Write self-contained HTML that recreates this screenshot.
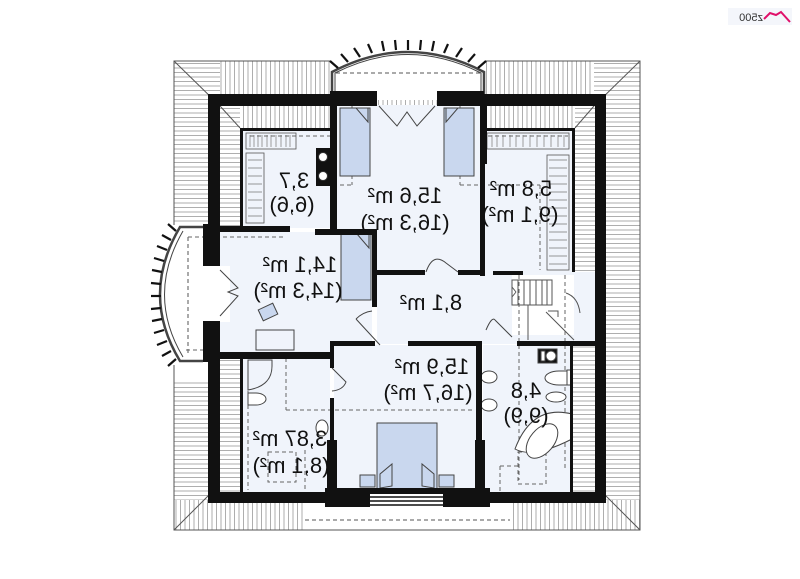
<!DOCTYPE html>
<html><head><meta charset="utf-8"><style>
html,body{margin:0;padding:0;background:#fff;width:800px;height:579px;overflow:hidden}
svg{display:block}
.t{font-family:"Liberation Sans",sans-serif;font-size:22px;fill:#111;text-anchor:middle}
</style></head><body>
<svg width="800" height="579" viewBox="0 0 800 579" xmlns="http://www.w3.org/2000/svg">
<defs>
<pattern id="hv" width="4.5" height="10" patternUnits="userSpaceOnUse"><rect width="4.5" height="10" fill="#fff"/><line x1="0.5" y1="0" x2="0.5" y2="10" stroke="#999" stroke-width="0.8"/></pattern>
<pattern id="hh" width="10" height="4.5" patternUnits="userSpaceOnUse"><rect width="10" height="4.5" fill="#fff"/><line x1="0" y1="0.5" x2="10" y2="0.5" stroke="#999" stroke-width="0.8"/></pattern>
</defs>
<rect width="800" height="579" fill="#fff"/>
<!-- logo -->
<rect x="728" y="8" width="64" height="17" fill="#f4f6fb"/>
<text x="751" y="21" font-family="Liberation Sans,sans-serif" font-size="11" fill="#333" text-anchor="middle" transform="translate(1502,0) scale(-1,1)">z500</text>
<path d="M764 19 L770 13 L776 15 L781 12 L790 22" stroke="#e0106a" stroke-width="2" fill="none"/>

<!-- roof hatching -->
<rect x="174" y="61" width="466" height="45" fill="url(#hv)"/>
<rect x="174" y="61" width="46" height="168" fill="url(#hh)"/>
<rect x="594" y="61" width="46" height="469" fill="url(#hh)"/>
<rect x="174" y="380" width="46" height="150" fill="url(#hh)"/>
<rect x="174" y="500" width="131" height="30" fill="url(#hv)"/>
<rect x="510" y="500" width="130" height="30" fill="url(#hv)"/>
<rect x="220" y="106" width="110" height="22" fill="url(#hv)"/>
<rect x="484" y="106" width="110" height="22" fill="url(#hv)"/>
<rect x="220" y="106" width="20" height="122" fill="url(#hh)"/>
<rect x="575" y="106" width="20" height="166" fill="url(#hh)"/>
<rect x="220" y="358" width="20" height="135" fill="url(#hh)"/>
<rect x="573" y="344" width="22" height="150" fill="url(#hh)"/>
<g stroke="#555" stroke-width="1" fill="none">
<rect x="174" y="61" width="466" height="469"/>
<line x1="174" y1="61" x2="220" y2="106"/><line x1="640" y1="61" x2="594" y2="106"/>
<line x1="174" y1="530" x2="210" y2="494"/><line x1="640" y1="530" x2="604" y2="494"/>
<line x1="220" y1="106" x2="240" y2="128"/><line x1="594" y1="106" x2="575" y2="128"/>
<line x1="305" y1="520" x2="510" y2="520" stroke-dasharray="4,3"/>
</g>
<rect x="305" y="505" width="205" height="24" fill="#fff"/>
<line x1="305" y1="520" x2="510" y2="520" stroke="#555" stroke-dasharray="4,3"/>

<!-- bay windows -->
<rect x="331" y="60" width="154" height="40" fill="#fff"/>
<path d="M332 94 V72 Q408 32 484 72 V94" fill="#fff" stroke="#444" stroke-width="2.5"/>
<path d="M335 94 V73 Q408 36 481 73 V94" fill="none" stroke="#444" stroke-width="1"/>
<line x1="336" y1="73" x2="480" y2="73" stroke="#555" stroke-dasharray="4,3"/>
<g stroke="#111" stroke-width="2.2">
<line x1="338" y1="68" x2="330" y2="61"/><line x1="348" y1="62" x2="341" y2="54"/><line x1="360" y1="57" x2="354" y2="48"/><line x1="372" y1="53" x2="368" y2="44"/><line x1="384" y1="51" x2="382" y2="41"/><line x1="396" y1="50" x2="395" y2="40"/><line x1="408" y1="50" x2="408" y2="40"/><line x1="420" y1="50" x2="421" y2="40"/><line x1="432" y1="51" x2="434" y2="41"/><line x1="444" y1="53" x2="448" y2="44"/><line x1="456" y1="57" x2="462" y2="48"/><line x1="468" y1="62" x2="475" y2="54"/><line x1="478" y1="68" x2="486" y2="61"/>
</g>
<rect x="150" y="225" width="55" height="140" fill="#fff"/>
<path d="M203 227 H180 Q140 295 180 361 H203" fill="#fff" stroke="#444" stroke-width="2.5"/>
<path d="M183 231 Q146 295 183 357" fill="none" stroke="#444" stroke-width="1"/>
<line x1="188" y1="237" x2="188" y2="355" stroke="#555" stroke-dasharray="4,3"/>
<g stroke="#111" stroke-width="2.2">
<line x1="176" y1="231" x2="168" y2="224"/><line x1="171" y1="240" x2="162" y2="235"/><line x1="167" y1="250" x2="157" y2="246"/><line x1="164" y1="261" x2="154" y2="258"/><line x1="162" y1="272" x2="152" y2="270"/><line x1="161" y1="284" x2="151" y2="283"/><line x1="161" y1="296" x2="151" y2="296"/><line x1="161" y1="308" x2="151" y2="309"/><line x1="162" y1="319" x2="152" y2="321"/><line x1="164" y1="330" x2="154" y2="333"/><line x1="167" y1="341" x2="157" y2="345"/><line x1="171" y1="351" x2="162" y2="356"/><line x1="176" y1="359" x2="168" y2="366"/>
</g>

<!-- room floors -->
<g fill="#f0f4fb">
<rect x="243" y="131" width="87" height="97"/>
<rect x="337" y="105" width="143" height="168"/>
<rect x="484" y="131" width="88" height="141"/>
<rect x="220" y="232" width="152" height="121"/>
<rect x="377" y="272" width="218" height="72"/>
<rect x="220" y="240" width="110" height="110"/>
<rect x="243" y="359" width="87" height="133"/>
<rect x="334" y="345" width="142" height="147"/>
<rect x="483" y="345" width="89" height="147"/>
<rect x="220" y="266" width="10" height="56" fill="#fff"/>
</g>
<rect x="512" y="275" width="62" height="60" fill="#fff"/>

<!-- dashed lines -->
<g stroke="#666" stroke-width="1" stroke-dasharray="4,3" fill="none">
<line x1="250" y1="136" x2="330" y2="136"/><line x1="340" y1="185" x2="352" y2="185"/><line x1="352" y1="105" x2="352" y2="185"/>
<line x1="460" y1="105" x2="460" y2="185"/><line x1="460" y1="185" x2="540" y2="185"/><line x1="488" y1="136" x2="568" y2="136"/>
<line x1="540" y1="185" x2="540" y2="270"/><line x1="188" y1="237" x2="285" y2="237"/>
<line x1="186" y1="350" x2="208" y2="350"/><line x1="286" y1="358" x2="286" y2="410"/><line x1="286" y1="410" x2="475" y2="410"/>
<line x1="519" y1="275" x2="519" y2="480"/><line x1="565" y1="275" x2="565" y2="470"/>
<line x1="248" y1="370" x2="248" y2="490"/><line x1="305" y1="450" x2="305" y2="492"/>
<rect x="268" y="452" width="28" height="30"/><rect x="518" y="452" width="28" height="32"/>
<line x1="500" y1="466" x2="500" y2="492"/><line x1="500" y1="466" x2="518" y2="466"/>
</g>

<!-- closets -->
<g stroke="#555" stroke-width="0.8" fill="none">
<rect x="246" y="133" width="50" height="16"/>
<rect x="246" y="153" width="18" height="70"/>
<rect x="487" y="133" width="82" height="16"/>
<rect x="547" y="155" width="22" height="115"/>
</g>
<g stroke="#777" stroke-width="0.7">
<path d="M250 135 v12 M254 135 v12 M258 135 v12 M262 135 v12 M267 135 v12 M271 135 v12 M276 135 v12 M281 135 v12 M286 135 v12 M290 135 v12"/>
<path d="M248 160 h14 M248 168 h14 M248 176 h14 M248 184 h14 M248 192 h14 M248 200 h14 M248 208 h14 M248 216 h14"/>
<path d="M492 135 v12 M497 135 v12 M503 135 v12 M510 135 v12 M516 135 v12 M523 135 v12 M530 135 v12 M537 135 v12 M544 135 v12 M551 135 v12 M558 135 v12 M564 135 v12"/>
<path d="M549 160 h18 M549 168 h18 M549 176 h18 M549 184 h18 M549 192 h18 M549 200 h18 M549 208 h18 M549 216 h18 M549 224 h18 M549 232 h18 M549 240 h18 M549 248 h18 M549 256 h18 M549 264 h18"/>
</g>
<!-- chimney -->
<rect x="316" y="148" width="14" height="38" fill="#111"/>
<circle cx="323" cy="157" r="4.5" fill="#fff" stroke="#333"/><circle cx="323" cy="176" r="4.5" fill="#fff" stroke="#333"/>

<!-- beds -->
<g fill="#c9d7ee" stroke="#444" stroke-width="1">
<rect x="340" y="108" width="30" height="68"/>
<rect x="444" y="108" width="30" height="68"/>
<rect x="341" y="234" width="30" height="66"/>
<rect x="377" y="423" width="60" height="66"/>
<rect x="360" y="475" width="15" height="12"/><rect x="439" y="475" width="15" height="12"/>
<rect x="260" y="306" width="16" height="12" transform="rotate(-25 268 312)"/>
</g>
<g stroke="#444" stroke-width="1" fill="none">
<path d="M356 108 h12 v14 z"/><path d="M458 108 h-12 v14 z"/><path d="M357 234 h12 v14 z"/>
<path d="M380 488 v-14 l12 -10 v22 z M434 488 v-14 l-12 -10 v22 z"/>
<rect x="256" y="330" width="38" height="20"/>
</g>

<!-- stairs -->
<g stroke="#555" stroke-width="1" fill="none">
<rect x="512" y="280" width="40" height="25"/>
<path d="M518 280v25 M524 280v25 M530 280v25 M536 280v25 M542 280v25 M547 280v25"/>
<path d="M516 292 l-4 -5 M516 292 l-4 5"/>
<path d="M566 293 q12 4 14 20"/><line x1="528" y1="305" x2="528" y2="340"/>
<path d="M548 311 h10 v6 M546 312 l28 28"/>
</g>
<!-- doors -->
<g stroke="#444" stroke-width="1" fill="none">
<path d="M379 106 l18 20 l10 -14 l10 14 l18 -20"/>
<path d="M220 270 l18 18 l-10 4 l10 4 l-18 20"/>
<path d="M426 272 q7 -20 20 -9 M458 272 l-12 -9"/>
<path d="M356 319 q7 -7 16 -8 M356 319 l24 26"/>
<path d="M486 330 q6 -14 9 -10 M495 320 l17 17"/>
<path d="M332 368 l14 14 q-3 8 -14 9"/>
<path d="M248 360 h24 v6 q0 20 -24 24 z"/>
</g>
<!-- sanitary -->
<g stroke="#444" stroke-width="1" fill="#fff">
<rect x="538" y="349" width="19" height="14" fill="#111"/><rect x="541" y="351" width="4" height="10"/><circle cx="551" cy="356" r="5"/>
<path d="M567 371 h-8 a10 5 0 0 0 0 14 h8"/><rect x="567" y="370" width="4" height="15"/>
<ellipse cx="556" cy="397" rx="10" ry="5"/>
<path d="M572 414 q-40 -10 -57 35 q18 10 57 -10 z"/>
<ellipse cx="542" cy="441" rx="12" ry="20" transform="rotate(40 542 441)"/>
<ellipse cx="489" cy="377" rx="8" ry="6"/><ellipse cx="489" cy="405" rx="8" ry="6"/>
<path d="M248 405 h8 a10 6 0 0 0 0 -12 h-8 z"/>
<ellipse cx="322" cy="428" rx="6" ry="8"/>
</g>

<!-- walls -->
<g fill="#111">
<rect x="208" y="94" width="122" height="12"/>
<rect x="330" y="91" width="47" height="15"/>
<rect x="437" y="91" width="47" height="15"/>
<rect x="484" y="94" width="122" height="12"/>
<rect x="208" y="94" width="12" height="134"/>
<rect x="203" y="224" width="17" height="42"/>
<rect x="203" y="321" width="17" height="41"/>
<rect x="208" y="358" width="12" height="145"/>
<rect x="595" y="94" width="11" height="409"/>
<rect x="208" y="492" width="398" height="11"/>
<rect x="325" y="488" width="165" height="19"/>
<rect x="330" y="94" width="7" height="136"/>
<rect x="480" y="94" width="5" height="182"/>
<rect x="480" y="94" width="7" height="70"/>
<rect x="240" y="128" width="90" height="3"/><rect x="240" y="128" width="3" height="100"/>
<rect x="484" y="128" width="91" height="3"/><rect x="572" y="128" width="3" height="144"/>
<rect x="208" y="226" width="82" height="6"/>
<rect x="315" y="229" width="60" height="6"/>
<rect x="372" y="229" width="5" height="78"/>
<rect x="377" y="270" width="48" height="5"/><rect x="458" y="270" width="26" height="5"/>
<rect x="493" y="271" width="30" height="4"/>
<rect x="208" y="352" width="123" height="7"/>
<rect x="240" y="358" width="3" height="134"/>
<rect x="330" y="341" width="45" height="5"/><rect x="408" y="341" width="74" height="5"/><rect x="517" y="341" width="78" height="5"/>
<rect x="330" y="341" width="4" height="27"/><rect x="330" y="398" width="4" height="94"/><rect x="327" y="440" width="10" height="55"/>
<rect x="476" y="341" width="6" height="150"/><rect x="475" y="440" width="10" height="55"/>
<rect x="570" y="344" width="3" height="148"/>
</g>
<rect x="370" y="494" width="73" height="13" fill="#fff"/>
<g stroke="#111" stroke-width="1.5"><line x1="370" y1="497" x2="443" y2="497"/><line x1="370" y1="501" x2="443" y2="501"/><line x1="370" y1="505" x2="443" y2="505"/></g>

<!-- labels (mirrored) -->
<g class="t">
<text transform="translate(294,188) scale(-1,1)">3,7</text>
<text transform="translate(292,212) scale(-1,1)">(6,6)</text>
<text transform="translate(405,203) scale(-1,1)">15,6 m²</text>
<text transform="translate(405,230) scale(-1,1)">(16,3 m²)</text>
<text transform="translate(521,196) scale(-1,1)">5,8 m²</text>
<text transform="translate(520,222) scale(-1,1)">(9,1 m²)</text>
<text transform="translate(300,272) scale(-1,1)">14,1 m²</text>
<text transform="translate(298,298) scale(-1,1)">(14,3 m²)</text>
<text transform="translate(431,310) scale(-1,1)">8,1 m²</text>
<text transform="translate(432,374) scale(-1,1)">15,9 m²</text>
<text transform="translate(428,400) scale(-1,1)">(16,7 m²)</text>
<text transform="translate(526,398) scale(-1,1)">4,8</text>
<text transform="translate(526,423) scale(-1,1)">(9,9)</text>
<text transform="translate(290,446) scale(-1,1)">3,87 m²</text>
<text transform="translate(291,473) scale(-1,1)">(8,1 m²)</text>
</g>
</svg>
</body></html>
